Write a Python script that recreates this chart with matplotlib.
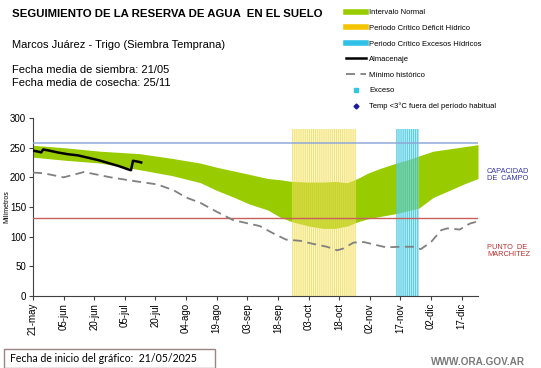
import matplotlib
matplotlib.use("Agg")
import matplotlib.pyplot as plt
from matplotlib.lines import Line2D
from matplotlib.patches import Rectangle
import numpy as np

plt.rcParams['font.family'] = ['Liberation Sans', 'DejaVu Sans']
plt.rcParams['hatch.linewidth'] = 0.55

# ---------------- data (days since 21-may) ----------------
tick_days = [0, 15, 30, 45, 60, 75, 90, 105, 120, 135, 150, 165, 180, 195, 210]
tick_labels = ['21-may', '05-jun', '20-jun', '05-jul', '20-jul', '04-ago', '19-ago',
               '03-sep', '18-sep', '03-oct', '18-oct', '02-nov', '17-nov', '02-dic', '17-dic']

norm_days = [0, 15, 33, 52, 68, 82, 90, 98, 106, 115, 121, 127, 135, 142, 148, 154,
             159, 164, 170, 178, 184, 189, 196, 204, 212, 218]
norm_upper = [254, 250, 244, 240, 232, 224, 217, 211, 205, 198, 196, 193, 192, 192, 193, 191,
              198, 207, 215, 224, 230, 236, 244, 248, 252, 255]
norm_lower = [234, 229, 224, 213, 203, 191, 178, 167, 155, 145, 133, 125, 118, 114, 114, 118,
              125, 130, 134, 139, 144, 148, 166, 178, 190, 198]

min_days = [0, 5, 15, 25, 38, 49, 61, 69, 75, 82, 90, 98, 111, 118, 124, 131, 137, 144,
            149, 152, 157, 162, 168, 173, 180, 186, 190, 195, 200, 203, 209, 214, 218]
min_vals = [208, 207, 200, 209, 200, 194, 188, 178, 166, 157, 142, 128, 118, 105, 95, 93, 88, 83,
            77, 80, 90, 91, 86, 82, 83, 83, 79, 91, 111, 114, 112, 122, 126]

alm_days = [0, 3, 4, 5, 8, 12, 17, 22, 27, 32, 37, 42, 47, 48, 49, 52, 53]
alm_vals = [245, 243, 242, 247, 245, 242, 239, 237, 233, 229, 224, 219, 213, 212, 228, 226, 225]

deficit_days = list(range(127, 158))
exceso_days = list(range(178, 189))
period_height = 282

capacidad_campo = 258
punto_marchitez = 132

# ---------------- figure ----------------
W, H = 541, 368
fig = plt.figure(figsize=(W / 100, H / 100), dpi=100)
ax = fig.add_axes([33 / W, 1 - 296 / H, (478 - 33) / W, (296 - 118) / H])

ax.fill_between(norm_days, norm_lower, norm_upper, color='#99cc00', lw=0, zorder=1)
ax.bar(np.array(deficit_days) + 0.5, [period_height] * len(deficit_days), width=1.0,
       color=(0.97, 0.92, 0.5, 0.4), edgecolor=(0.94, 0.84, 0.25, 0.8), linewidth=0,
       hatch='||||||||', zorder=2)
ax.bar(np.array(exceso_days) + 0.5, [period_height] * len(exceso_days), width=1.0,
       color=(0.5, 0.86, 0.93, 0.55), edgecolor=(0.15, 0.75, 0.86, 0.85), linewidth=0,
       hatch='||||||||', zorder=2)
ax.axhline(capacidad_campo, color='#8fa8d8', lw=1.1, zorder=3)
ax.axhline(punto_marchitez, color='#c86060', lw=1.0, zorder=3)
ax.plot(min_days, min_vals, color='#808080', lw=1.3, dashes=(5, 3), zorder=4)
ax.plot(alm_days, alm_vals, color='black', lw=1.8, zorder=5)

ax.set_xlim(0, 218)
ax.set_ylim(0, 300)
ax.set_yticks(range(0, 301, 50))
ax.set_xticks(tick_days)
ax.set_xticklabels(tick_labels, rotation=90, fontsize=7)
ax.tick_params(axis='y', labelsize=7, length=3, pad=2, color='#404040')
ax.tick_params(axis='x', length=3, pad=2, color='#404040')
for s in ['top', 'right']:
    ax.spines[s].set_visible(False)
for s in ['left', 'bottom']:
    ax.spines[s].set_color('#404040')
ax.set_ylabel('Milímetros', fontsize=5)
ax.yaxis.set_label_coords(-0.051, 0.5)

# ---------------- texts ----------------
fig.text(12 / W, 1 - 14 / H, 'SEGUIMIENTO DE LA RESERVA DE AGUA  EN EL SUELO',
         fontsize=8.2, weight='bold', va='center')
fig.text(12 / W, 1 - 45 / H, 'Marcos Juárez - Trigo (Siembra Temprana)', fontsize=8.0, va='center')
fig.text(12 / W, 1 - 70 / H, 'Fecha media de siembra: 21/05', fontsize=8.0, va='center')
fig.text(12 / W, 1 - 83 / H, 'Fecha media de cosecha: 25/11', fontsize=8.0, va='center')

fig.text(487 / W, 1 - 175 / H, 'CAPACIDAD\nDE  CAMPO', fontsize=5.3, color='#3535a8',
         va='center', linespacing=1.1)
fig.text(487 / W, 1 - 251 / H, 'PUNTO  DE\nMARCHITEZ', fontsize=5.3, color='#b83030',
         va='center', linespacing=1.1)

fig.add_artist(Rectangle((3.5 / W, 1 - 367.5 / H), (215 - 3.5) / W, (367.5 - 349) / H,
                         transform=fig.transFigure, fc='white', ec='#9c8484', lw=1))
fig.text(10 / W, 1 - 358.5 / H, 'Fecha de inicio del gráfico:  21/05/2025', fontsize=7.6,
         va='center', family=['Lato', 'DejaVu Sans'])
fig.text(525 / W, 1 - 362 / H, 'WWW.ORA.GOV.AR', fontsize=7.2, color='#7a7a7a',
         weight='bold', ha='right', va='center')

# ---------------- legend ----------------
handles = [
    Line2D([], [], color='#99cc00', lw=4),
    Line2D([], [], color='#f5c400', lw=4),
    Line2D([], [], color='#30c0e8', lw=4),
    Line2D([], [], color='black', lw=1.8),
    Line2D([], [], color='#808080', lw=1.3, dashes=(5, 3)),
    Line2D([], [], color='#30c8dc', lw=0, marker='s', markersize=2.2),
    Line2D([], [], color='#1a1aa0', lw=0, marker='D', markersize=2.5),
]
labels = ['Intervalo Normal', 'Periodo Crítico Déficit Hídrico', 'Periodo Crítico Excesos Hídricos',
          'Almacenaje', 'Mínimo histórico', 'Exceso', 'Temp <3°C fuera del período habitual']
fig.legend(handles, labels, loc='upper left', bbox_to_anchor=(346 / W, 1 - 9 / H),
           frameon=False, fontsize=5.5, handlelength=2.6, handletextpad=0.4,
           labelspacing=1.08, borderpad=0, borderaxespad=0)

fig.savefig('out.png', dpi=100)
